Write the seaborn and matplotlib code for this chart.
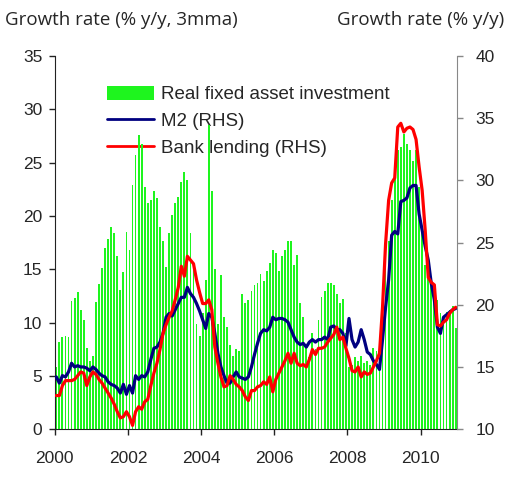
import numpy as np
import pandas as pd
import matplotlib
matplotlib.use('Agg')
import matplotlib.pyplot as plt
import seaborn as sns
from matplotlib.lines import Line2D
from matplotlib.patches import Patch

# monthly data, Jan 2000 - Dec 2010
fai = [5.8, 8.2, 8.6, 8.7, 8.6, 12.0, 12.3, 12.9, 11.2, 10.2, 7.6, 6.4,
       6.9, 11.9, 13.6, 15.1, 17.0, 17.8, 19.0, 18.4, 16.2, 13.1, 14.7, 18.5,
       16.8, 22.9, 25.7, 27.6, 26.8, 22.7, 21.2, 21.5, 22.3, 21.7, 19.0, 17.7,
       15.2, 18.4, 20.1, 21.2, 21.8, 23.2, 24.1, 23.4, 18.4, 15.2, 9.9, 8.7,
       10.9, 14.0, 28.5, 22.3, 15.0, 9.9, 14.5, 10.5, 9.6, 7.9, 6.9, 7.5,
       7.3, 12.7, 11.8, 12.1, 13.0, 13.5, 13.7, 14.6, 13.9, 14.8, 15.6, 16.8,
       16.5, 14.8, 16.2, 16.8, 17.7, 17.7, 15.4, 16.3, 11.8, 10.5, 7.6, 6.8,
       9.0, 7.5, 10.2, 12.4, 13.0, 13.7, 13.7, 13.5, 12.7, 11.8, 12.2, 9.0,
       5.8, 6.0, 6.8, 6.4, 6.9, 6.2, 6.4, 6.0, 7.6, 7.3, 5.5, 12.1,
       15.6, 17.7, 21.5, 24.3, 26.2, 26.5, 27.7, 26.8, 26.2, 25.2, 26.2, 22.7,
       18.5, 15.4, 14.9, 14.0, 13.0, 12.1, 10.9, 10.4, 11.0, 11.2, 11.6, 9.5]

m2 = [14.2, 13.7, 14.3, 14.2, 14.6, 15.3, 15.0, 15.1, 15.0, 15.0, 14.9, 14.7,
      15.0, 14.8, 14.5, 14.3, 14.2, 13.8, 13.6, 13.5, 13.3, 12.9, 13.6, 12.8,
      13.5, 12.9, 14.3, 14.0, 14.3, 14.2, 14.6, 15.6, 16.5, 16.6, 17.0, 17.7,
      19.0, 19.3, 19.1, 19.6, 20.1, 20.6, 20.6, 21.4, 20.9, 20.6, 20.1, 19.5,
      18.8, 18.1, 19.3, 19.0, 17.7, 16.1, 15.0, 14.3, 13.7, 13.7, 14.2, 14.6,
      14.2, 14.1, 14.0, 14.2, 15.0, 16.0, 16.9, 17.7, 18.0, 17.9, 18.2, 19.0,
      18.8, 18.9, 18.9, 18.8, 18.6, 18.0, 17.4, 17.0, 16.8, 16.9, 16.6, 17.0,
      17.2, 17.0, 17.2, 17.2, 17.4, 17.2, 18.2, 18.3, 18.0, 18.0, 17.7, 16.7,
      18.9, 17.2, 16.6, 17.0, 18.0, 17.2, 16.2, 16.0, 15.5, 15.2, 14.8, 17.2,
      19.8, 22.0, 25.6, 25.9, 25.7, 28.3, 28.4, 28.6, 29.4, 29.6, 29.6, 27.3,
      26.0, 24.7, 23.6, 21.7, 20.4, 18.2, 17.7, 19.0, 19.2, 19.4, 19.6, 19.7]

lending = [12.7, 12.7, 13.5, 13.9, 13.9, 13.9, 14.0, 14.3, 14.6, 14.5, 13.5, 14.2,
           14.6, 14.4, 14.0, 13.7, 13.3, 12.9, 12.5, 12.0, 11.4, 10.9, 11.0, 11.4,
           11.0, 10.3, 11.4, 11.8, 11.6, 12.2, 12.4, 13.5, 14.5, 15.3, 16.4, 17.7,
           18.4, 19.0, 19.5, 20.4, 21.4, 23.1, 22.3, 23.9, 23.6, 23.3, 22.0, 21.0,
           20.1, 20.1, 20.4, 19.6, 16.6, 15.3, 14.2, 13.4, 13.5, 14.3, 14.0, 13.6,
           13.4, 13.1, 12.6, 12.3, 13.1, 13.1, 13.4, 13.5, 13.8, 13.6, 14.2, 13.0,
           14.0, 14.5, 15.0, 15.5, 16.1, 15.3, 16.1, 15.3, 15.1, 15.2, 15.0, 15.6,
           16.4, 16.0, 16.5, 16.5, 16.6, 17.0, 17.3, 17.6, 18.2, 17.2, 17.4, 16.5,
           15.7, 14.7, 14.6, 15.0, 14.2, 14.6, 14.4, 14.5, 15.0, 15.5, 16.1, 19.8,
           24.9, 28.4, 29.8, 30.2, 34.3, 34.6, 33.9, 34.2, 34.3, 34.1, 33.3, 31.1,
           29.2, 26.0, 22.2, 21.8, 21.6, 18.4, 18.3, 18.6, 18.8, 19.3, 19.6, 19.8]

labels = ['Real fixed asset investment', 'M2 (RHS)', 'Bank lending (RHS)']
year_ticks = [2000, 2002, 2004, 2006, 2008, 2010]

# month index 0..131 (Jan 2000 = 0)
df = pd.DataFrame({
    'month': np.arange(len(fai)),
    'fai': fai,
    'm2': m2,
    'lending': lending,
})

green = '#1EF51E'
navy = '#000080'
red = '#FF0000'

sns.set_style('ticks')
plt.rcParams['font.family'] = ['Liberation Sans', 'DejaVu Sans']

fig = plt.figure(figsize=(5.12, 4.8), dpi=100)
ax = fig.add_axes([0.107, 0.106, 0.786, 0.777])

sns.barplot(data=df, x='month', y='fai', native_scale=True, width=0.6,
            color=green, saturation=1, errorbar=None, linewidth=0, ax=ax)
# crisp thin bars like the original
for p in ax.patches:
    p.set_antialiased(False)

ax2 = ax.twinx()
sns.lineplot(data=df, x='month', y='m2', color=navy, lw=2.3, ax=ax2)
sns.lineplot(data=df, x='month', y='lending', color=red, lw=2.3, ax=ax2)

ax.set_xlim(-0.5, len(fai) - 0.5)
ax.set_ylim(0, 35)
ax2.set_ylim(10, 40)
ax.set_xticks([(y - 2000) * 12 - 0.5 for y in year_ticks])
ax.set_xticklabels([str(y) for y in year_ticks])
ax.set_yticks(range(0, 36, 5))
ax2.set_yticks(range(10, 41, 5))
ax.set_xlabel('')
ax.set_ylabel('')
ax2.set_xlabel('')
ax2.set_ylabel('')

ax.tick_params(axis='y', length=4, width=1, pad=5, labelsize=12.5, color='#222222')
ax.tick_params(axis='x', length=4, width=1, pad=12, labelsize=12.5, color='#222222')
ax2.tick_params(axis='y', length=4, width=1, pad=9, labelsize=12.5, color='#888888')

for s in ['top', 'right']:
    ax.spines[s].set_visible(False)
for s in ['top', 'left', 'bottom']:
    ax2.spines[s].set_visible(False)
ax.spines['left'].set_color('#222222')
ax.spines['bottom'].set_color('#222222')
ax2.spines['right'].set_color('#888888')

handles = [Patch(facecolor=green, edgecolor='none'),
           Line2D([], [], color=navy, lw=2),
           Line2D([], [], color=red, lw=2)]
leg = ax.legend(handles, labels, loc='upper left', bbox_to_anchor=(0.13, 0.92),
                frameon=False, fontsize=13.5, handlelength=2.5, handleheight=0.75,
                labelspacing=0.5, handletextpad=0.35, borderpad=0, borderaxespad=0)
leg.set_zorder(0)

fig.text(0.01, 0.958, 'Growth rate (% y/y, 3mma)', fontsize=13.5,
         family=['Open Sans', 'DejaVu Sans'], va='center', ha='left')
fig.text(0.985, 0.958, 'Growth rate (% y/y)', fontsize=13.5,
         family=['Open Sans', 'DejaVu Sans'], va='center', ha='right')

fig.savefig('out.png', dpi=100)
